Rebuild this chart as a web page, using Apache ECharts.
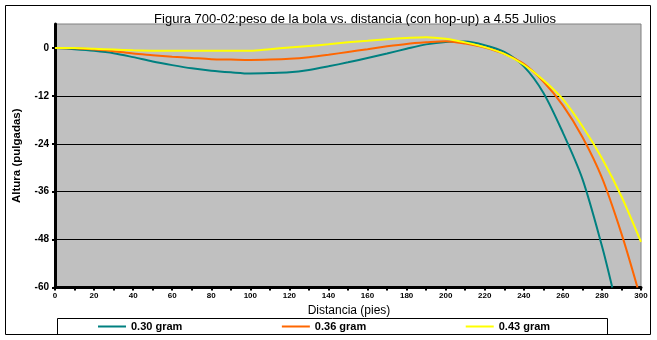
<!DOCTYPE html>
<html>
<head>
<meta charset="utf-8">
<script src="https://cdn.jsdelivr.net/npm/echarts@6/dist/echarts.min.js"></script>
<style>
  html, body { margin: 0; padding: 0; background: #fff; }
  #chart { width: 657px; height: 340px; }
</style>
</head>
<body>
<div id="chart"></div>
<script>
// Trajectory height (inches) against distance (feet) for three BB weights
const seriesNames = ['0.30 gram', '0.36 gram', '0.43 gram'];
const seriesColors = ['#008080', '#FF6600', '#FFFF00'];

const distance = [0, 10, 20, 30, 40, 50, 60, 70, 80, 90, 100, 110, 120, 130, 140, 150,
  160, 170, 180, 190, 200, 210, 220, 230, 240, 250, 260, 270, 280, 290, 300];

const height030 = [0, -0.3, -0.7, -1.3, -2.3, -3.4, -4.3, -5.1, -5.7, -6.1, -6.4, -6.3, -6.1,
  -5.5, -4.6, -3.6, -2.5, -1.4, -0.2, 0.9, 1.5, 1.6, 0.7, -1.0, -4.6, -11.2, -21.2, -32.8, -49.6];
const end030 = [285.3, -60];

const height036 = [0, -0.1, -0.4, -0.8, -1.4, -1.8, -2.2, -2.5, -2.8, -2.9, -3.0, -2.9, -2.7,
  -2.3, -1.7, -1.0, -0.3, 0.4, 1.0, 1.4, 1.7, 1.1, 0.1, -1.5, -4.0, -8.4, -14.4, -22.3, -32.5, -46.5];
const end036 = [298.2, -60];

const height043 = [0, 0, -0.2, -0.4, -0.6, -0.7, -0.7, -0.7, -0.7, -0.7, -0.7, -0.3, 0.1,
  0.5, 0.9, 1.4, 1.8, 2.2, 2.5, 2.7, 2.3, 1.4, 0.2, -1.5, -4.2, -8.0, -12.8, -19.6, -27.6, -37.2, -48.6];

const yTicks = [-60, -48, -36, -24, -12, 0];

function pairs(xs, ys, tail) {
  const out = ys.map((v, i) => [xs[i], v]);
  if (tail) out.push(tail);
  return out;
}

const lineData = [
  pairs(distance, height030, end030),
  pairs(distance, height036, end036),
  pairs(distance, height043, null)
];

const chart = echarts.init(document.getElementById('chart'), null, { renderer: 'canvas' });

const labelFont = 'Liberation Sans';

chart.setOption({
  animation: false,
  backgroundColor: '#ffffff',
  title: {
    text: 'Figura 700-02:peso de la bola vs. distancia (con hop-up) a 4.55 Julios',
    left: 350,
    textAlign: 'center',
    top: 8,
    textStyle: { fontFamily: labelFont, fontSize: 13, fontWeight: 'normal', color: '#000' }
  },
  grid: {
    left: 55, right: 16, top: 24, bottom: 52.5,
    outerBoundsMode: 'none',
    containLabel: false,
    show: true, backgroundColor: '#C0C0C0', borderColor: '#808080', borderWidth: 1
  },
  xAxis: {
    type: 'value', min: 0, max: 300, interval: 10,
    name: 'Distancia (pies)', nameLocation: 'middle', nameGap: 17,
    nameTextStyle: { fontFamily: labelFont, fontSize: 12, color: '#000', padding: [0, 0, 0, 2] },
    axisLine: { show: true, onZero: false, lineStyle: { color: '#000', width: 3 } },
    axisTick: { show: true, length: 3, lineStyle: { color: '#000', width: 2 } },
    axisLabel: {
      margin: 4, fontFamily: labelFont, fontSize: 8, fontWeight: 'bold', color: '#000',
      formatter: v => (v % 20 === 0 ? String(v) : '')
    },
    splitLine: { show: false }
  },
  yAxis: {
    type: 'value', min: -60, max: 6, interval: 12,
    name: 'Altura (pulgadas)', nameLocation: 'middle', nameGap: 32, nameRotate: 90,
    nameTextStyle: { fontFamily: labelFont, fontSize: 11.5, fontWeight: 'bold', color: '#000' },
    axisLine: { show: true, onZero: false, lineStyle: { color: '#000', width: 3 } },
    axisTick: { show: true, length: 3, lineStyle: { color: '#000', width: 2 }, customValues: yTicks },
    axisLabel: {
      margin: 6, fontFamily: labelFont, fontSize: 10, fontWeight: 'bold', color: '#000',
      customValues: yTicks
    },
    splitLine: { show: true, showMaxLine: false, showMinLine: false, lineStyle: { color: '#000', width: 1 } }
  },
  legend: {
    left: 98, top: 319.5, padding: 0,
    itemGap: 99.5, itemWidth: 28, itemHeight: 2, icon: 'rect',
    textStyle: { fontFamily: labelFont, fontSize: 11, fontWeight: 'bold', color: '#000', lineHeight: 14 },
    data: seriesNames
  },
  graphic: [
    { type: 'rect', silent: true, z: -10,
      shape: { x: 5.5, y: 5.5, width: 645, height: 329 },
      style: { fill: null, stroke: '#000', lineWidth: 1 } },
    { type: 'rect', silent: true, z: -10,
      shape: { x: 57.5, y: 318.5, width: 550, height: 16 },
      style: { fill: null, stroke: '#000', lineWidth: 1 } }
  ],
  series: seriesNames.map((name, i) => ({
    name: name,
    type: 'line',
    data: lineData[i],
    showSymbol: false,
    symbol: 'none',
    smooth: 0.3,
    clip: true,
    color: seriesColors[i],
    lineStyle: { color: seriesColors[i], width: 2 },
    z: 3 + i
  }))
});
</script>
</body>
</html>
